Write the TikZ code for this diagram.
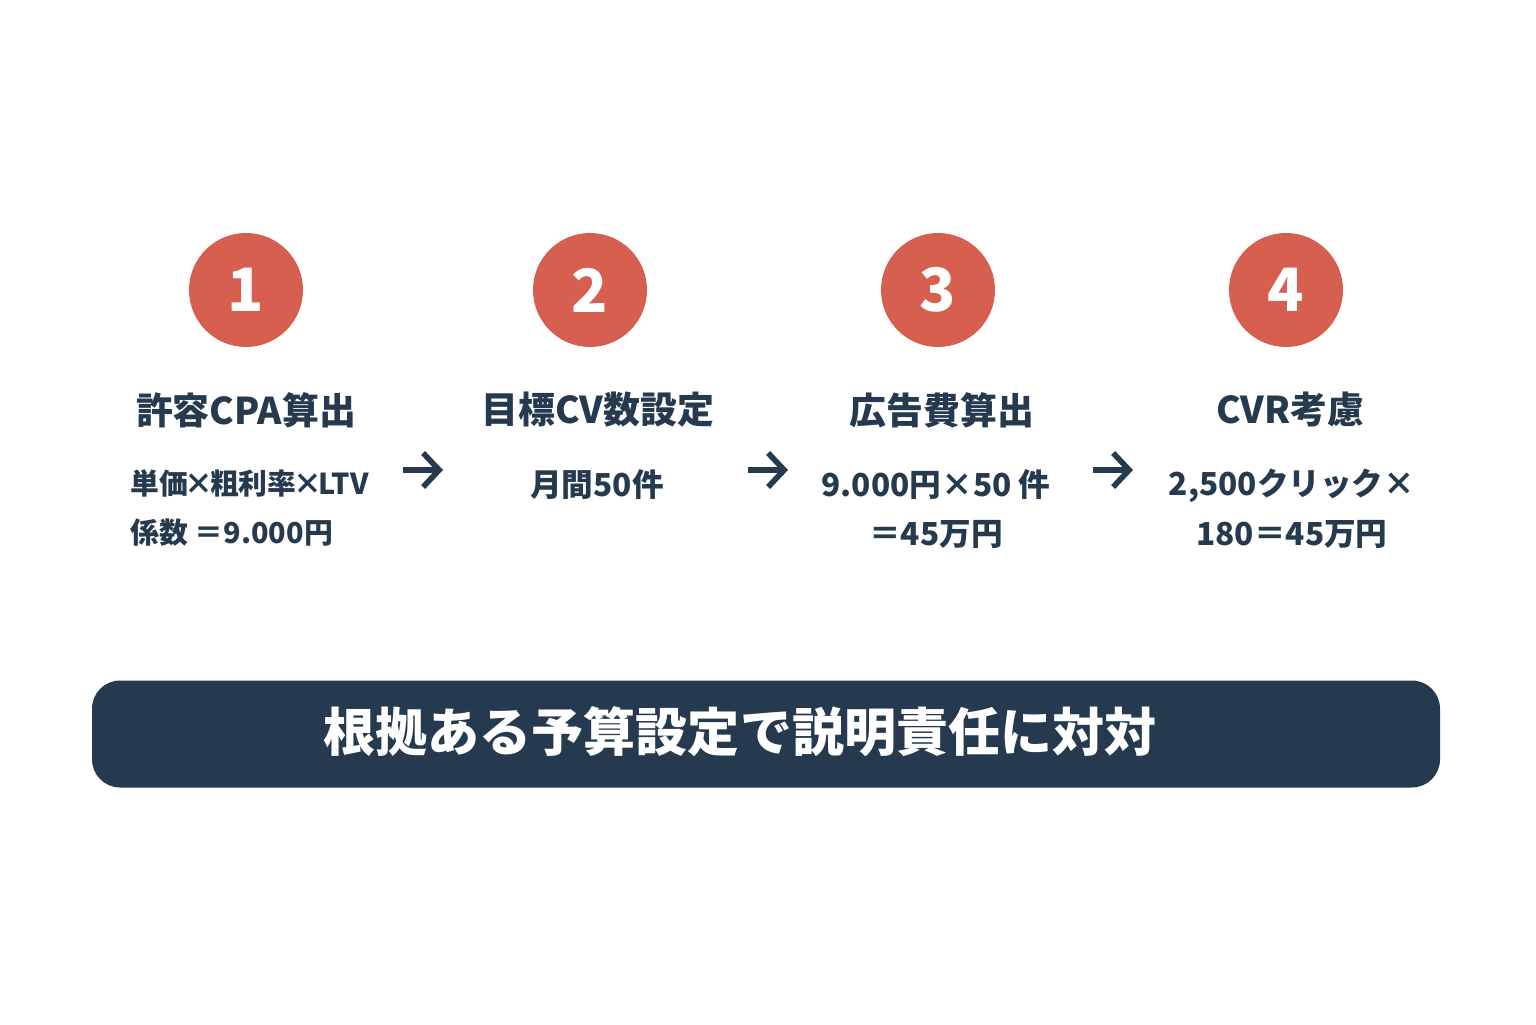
\documentclass[tikz,border=0pt]{standalone}
\usepackage{fontspec}
\setmainfont{Noto Sans CJK JP}
\usetikzlibrary{positioning,arrows.meta}
\definecolor{stepred}{HTML}{D65F4F}
\definecolor{navy}{HTML}{253A4E}
\tikzset{
    stepnum/.style={circle, fill=stepred, minimum size=1.14cm, text=white, font=\fontsize{17}{17}\selectfont\bfseries},
    steptitle/.style={text=navy, font=\fontsize{10.5}{12}\selectfont\bfseries},
    stepbody/.style={text=navy, font=\fontsize{9}{14}\selectfont\bfseries, align=center},
    flow/.style={->, line width=1.6pt, navy, >={Straight Barb[length=1.6mm,width=3.4mm]}}
}
\begin{document}
\begin{tikzpicture}
    \useasboundingbox (0,0) rectangle (15.36,10.24);
    % steps
    \foreach \i/\x in {1/2.46, 2/5.90, 3/9.38, 4/12.86}{
        \node[stepnum] (num\i) at (\x,7.34) {\i};
    }
    \node[steptitle] (title1) at (2.46,6.14) {許容CPA算出};
    \node[steptitle] (title2) at (5.98,6.14) {目標CV数設定};
    \node[steptitle] (title3) at (9.42,6.14) {広告費算出};
    \node[steptitle] (title4) at (12.9,6.14) {CVR考慮};
    \node[stepbody, align=left, anchor=north west, inner xsep=0pt, font=\fontsize{8.2}{14}\selectfont\bfseries] (body1) at (1.30,5.67) {単価\kern-1pt×\kern-1pt粗利率\kern-1pt×\kern-1ptLTV\\係数 ＝9.000円};
    \node[stepbody, anchor=north] (body2) at (5.97,5.67) {月間50件};
    \node[stepbody, anchor=north] (body3) at (9.36,5.67) {9.000円×50 件\\＝45万円};
    \node[stepbody, anchor=north] (body4) at (12.92,5.67) {2,500クリック×\\180＝45万円};
    % arrows
    \foreach \i/\x in {1/4.03, 2/7.48, 3/10.93}{
        \coordinate (a\i) at (\x,5.54);
        \coordinate (b\i) at ({\x+0.4},5.54);
        \draw[flow] (a\i) -- (b\i);
    }
    % banner
    \node[fill=navy, rounded corners=8pt, minimum width=13.48cm, minimum height=1.07cm,
          text=white, font=\fontsize{14.5}{16}\selectfont\bfseries] (banner) at (7.66,2.90) {};
    \node[text=white, font=\fontsize{14.8}{16}\selectfont\bfseries] (slogan) at (7.40,2.92)
          {根拠ある予算設定で説明責任に対対};
\end{tikzpicture}
\end{document}
